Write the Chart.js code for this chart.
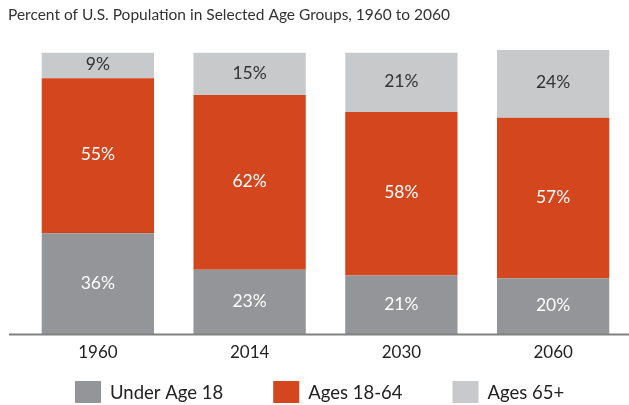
<!DOCTYPE html>
<html>
<head>
<meta charset="utf-8">
<script src="https://cdn.jsdelivr.net/npm/chart.js@4"></script>
<style>
    html, body { margin: 0; padding: 0; background: #fff; }
    #wrap { width: 629px; height: 405px; }
</style>
</head>
<body>
<div id="wrap"><canvas id="graficaEdades"></canvas></div>
<script>
const years = ['1960', '2014', '2030', '2060'];
const under18 = [36, 23, 21, 20];
const ages18to64 = [55, 62, 58, 57];
const ages65plus = [9, 15, 21, 24];
const seriesNames = ['Under Age 18', 'Ages 18-64', 'Ages 65+'];
const seriesColors = ['#939598', '#d4461e', '#c8c9ca'];
const labelColors = ['#ffffff', '#ffffff', '#333333'];
const chartTitle = 'Percent of U.S. Population in Selected Age Groups, 1960 to 2060';

const FONT = 'Lato, "Open Sans", sans-serif';

// title, axis line, value labels and legend drawn by hand
const decor = {
    id: 'decor',
    afterDatasetsDraw(chart) {
        const ctx = chart.ctx;
        const area = chart.chartArea;
        ctx.save();

        // baseline
        ctx.strokeStyle = '#808080';
        ctx.lineWidth = 2;
        ctx.beginPath();
        ctx.moveTo(9, area.bottom);
        ctx.lineTo(chart.width, area.bottom);
        ctx.stroke();

        // values inside segments
        ctx.font = '17.5px ' + FONT;
        ctx.textAlign = 'center';
        ctx.textBaseline = 'middle';
        chart.data.datasets.forEach((ds, i) => {
            chart.getDatasetMeta(i).data.forEach((bar, j) => {
                const p = bar.getProps(['x', 'y', 'base'], true);
                ctx.fillStyle = labelColors[i];
                ctx.fillText(ds.data[j] + '%', p.x, (p.y + p.base) / 2 - 1);
            });
        });
        ctx.restore();
    },
    afterDraw(chart) {
        const ctx = chart.ctx;
        ctx.save();

        // title
        ctx.font = '15.5px ' + FONT;
        ctx.fillStyle = '#333333';
        ctx.textAlign = 'left';
        ctx.textBaseline = 'middle';
        ctx.fillText(chartTitle, 8, 15);

        // legend
        ctx.font = '18.5px ' + FONT;
        let x = 75;
        const top = 381;
        chart.data.datasets.forEach((ds) => {
            ctx.fillStyle = ds.backgroundColor;
            ctx.fillRect(x, top, 26, 22);
            ctx.fillStyle = '#222222';
            ctx.fillText(ds.label, x + 35, top + 12);
            x += 35 + ctx.measureText(ds.label).width + 50;
        });
        ctx.restore();
    }
};

const ctxBar = document.getElementById('graficaEdades').getContext('2d');
new Chart(ctxBar, {
    type: 'bar',
    data: {
        labels: years,
        datasets: [under18, ages18to64, ages65plus].map((vals, i) => ({
            label: seriesNames[i],
            data: vals,
            backgroundColor: seriesColors[i],
            borderWidth: 0,
            barPercentage: 0.74,
            categoryPercentage: 1
        }))
    },
    options: {
        responsive: true,
        maintainAspectRatio: false,
        animation: false,
        layout: {
            padding: { top: 50, left: 22, right: 0, bottom: 42 }
        },
        plugins: {
            legend: { display: false },
            title: { display: false },
            tooltip: { enabled: false }
        },
        scales: {
            x: {
                stacked: true,
                grid: { display: false },
                border: { display: false },
                ticks: {
                    color: '#222222',
                    padding: 0,
                    font: { family: FONT, size: 17 }
                }
            },
            y: {
                stacked: true,
                display: false,
                min: 0,
                max: 101
            }
        }
    },
    plugins: [decor]
});
</script>
</body>
</html>
